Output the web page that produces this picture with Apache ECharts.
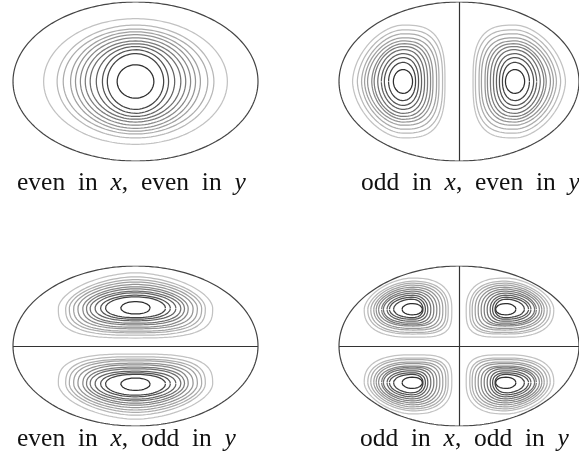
<!DOCTYPE html>
<html><head><meta charset="utf-8">
<script src="https://cdn.jsdelivr.net/npm/echarts@6/dist/echarts.min.js"></script>
<style>html,body{margin:0;padding:0;background:#fff}#c{width:579px;height:459px}</style>
</head><body><div id="c"></div>
<script>
// ---- Data (units: ellipse semi-axes = 1) ----
// contour shades, outermost -> innermost
const contourGrays = ['#c2c2c2','#b8b8b8','#acacac','#a0a0a0','#949494','#888888','#7c7c7c','#6f6f6f','#626262','#535353','#434343','#2e2e2e'];

// Panel A: even in x, even in y (contours centred at origin)
const eeHalfWidth  = [0.75, 0.64, 0.59, 0.53, 0.49, 0.45, 0.41, 0.37, 0.32, 0.27, 0.23, 0.15];
const eeHalfHeight = [0.79, 0.71, 0.66, 0.625, 0.59, 0.55, 0.51, 0.475, 0.44, 0.40, 0.35, 0.21];

// Panel B: odd in x, even in y (right lobe; mirrored in x)
const oeLobeCentre = [0.467, 0];
const oeNearX   = [0.35, 0.33, 0.30, 0.28, 0.25, 0.23, 0.205, 0.18, 0.155, 0.13, 0.105, 0.08];
const oeFarX    = [0.42, 0.38, 0.345, 0.32, 0.295, 0.26, 0.24, 0.21, 0.18, 0.155, 0.12, 0.08];
const oeHalfHeight = [0.71, 0.65, 0.60, 0.55, 0.51, 0.475, 0.44, 0.40, 0.35, 0.30, 0.24, 0.15];

// Panel C: even in x, odd in y (upper lobe; mirrored in y)
const eoLobeCentre = [0, 0.475];
const eoHalfWidth = [0.63, 0.57, 0.54, 0.505, 0.47, 0.43, 0.40, 0.37, 0.33, 0.285, 0.245, 0.12];
const eoFarY  = [0.44, 0.39, 0.355, 0.325, 0.295, 0.265, 0.24, 0.21, 0.19, 0.16, 0.14, 0.08];
const eoNearY = [0.375, 0.34, 0.31, 0.29, 0.26, 0.24, 0.21, 0.19, 0.16, 0.14, 0.12, 0.075];

// Panel D: odd in x, odd in y (upper-right lobe; mirrored in x and y)
const ooLobeCentre = [0.39, 0.46];
const ooFarX  = [0.40, 0.37, 0.345, 0.32, 0.30, 0.28, 0.255, 0.24, 0.21, 0.19, 0.155, 0.085];
const ooNearX = [0.33, 0.30, 0.28, 0.255, 0.23, 0.205, 0.18, 0.155, 0.13, 0.11, 0.09, 0.085];
const ooFarY  = [0.39, 0.35, 0.325, 0.30, 0.275, 0.25, 0.225, 0.20, 0.175, 0.15, 0.125, 0.07];
const ooNearY = [0.35, 0.31, 0.29, 0.26, 0.24, 0.21, 0.195, 0.175, 0.15, 0.125, 0.105, 0.07];

const captions = [
  ['even in ', 'x', ', even in ', 'y'],
  ['odd in ', 'x', ', even in ', 'y'],
  ['even in ', 'x', ', odd in ', 'y'],
  ['odd in ', 'x', ', odd in ', 'y']
];

// ---- Layout / style (not data) ----
const grids = [
  {left: 13, top: 2, width: 245, height: 159},
  {left: 339, top: 2, width: 244, height: 159},
  {left: 13, top: 266, width: 245, height: 160},
  {left: 339, top: 266, width: 244, height: 160}
];
const captionPos = [[17, 168], [361, 168], [17, 424], [360, 424]];
// superellipse exponents [outer, inner] per quadrant type
const EXP = {round: [2, 2], far: [1.75, 2.0], near: [3.0, 2.1], farfar: [1.7, 2.0], mixed: [2.5, 2.05], nearnear: [3.6, 2.2]};

function ex(kind, i, n) { const e = EXP[kind]; const f = i / (n - 1); return e[0] + (e[1] - e[0]) * f; }

function curve(cx, cy, xPos, xNeg, yPos, yNeg, exps, mx, my) {
  const pts = [], N = 220;
  for (let k = 0; k <= N; k++) {
    const t = 2 * Math.PI * k / N;
    const c = Math.cos(t), s = Math.sin(t);
    const q = c >= 0 ? (s >= 0 ? 0 : 3) : (s >= 0 ? 1 : 2);
    const n = exps[q];
    const px = Math.sign(c) * Math.pow(Math.abs(c), 2 / n);
    const py = Math.sign(s) * Math.pow(Math.abs(s), 2 / n);
    const x = cx + px * (c >= 0 ? xPos : xNeg);
    const y = cy + py * (s >= 0 ? yPos : yNeg);
    pts.push([mx * x, my * y]);
  }
  return pts;
}

const series = [];
function addLine(g, data, color, width, z, extra) {
  series.push(Object.assign({
    type: 'line', xAxisIndex: g, yAxisIndex: g, data: data,
    showSymbol: false, symbol: 'none', silent: true, z: z,
    lineStyle: {color: color, width: width}
  }, extra || {}));
}

// boundary ellipses + nodal lines
const nodal = [[], [{xAxis: 0}], [{yAxis: 0}], [{xAxis: 0}, {yAxis: 0}]];
for (let g = 0; g < 4; g++) {
  const b = [];
  for (let k = 0; k <= 360; k++) { const t = 2 * Math.PI * k / 360; b.push([Math.cos(t), Math.sin(t)]); }
  addLine(g, b, '#444', 1.2, 5, nodal[g].length ? {
    markLine: {silent: true, symbol: 'none', label: {show: false}, animation: false,
      lineStyle: {color: '#333', width: 1.2, type: 'solid'}, data: nodal[g]}
  } : {});
}

const nC = contourGrays.length;
for (let i = 0; i < nC; i++) {
  const col = contourGrays[i], w = 1.25;
  // A
  const r = ex('round', i, nC);
  addLine(0, curve(0, 0, eeHalfWidth[i], eeHalfWidth[i], eeHalfHeight[i], eeHalfHeight[i], [r, r, r, r], 1, 1), col, w, 3);
  // B
  const fB = ex('far', i, nC), nB = ex('near', i, nC);
  for (const mx of [1, -1])
    addLine(1, curve(oeLobeCentre[0], oeLobeCentre[1], oeFarX[i], oeNearX[i], oeHalfHeight[i], oeHalfHeight[i], [fB, nB, nB, fB], mx, 1), col, w, 3);
  // C
  for (const my of [1, -1])
    addLine(2, curve(eoLobeCentre[0], eoLobeCentre[1], eoHalfWidth[i], eoHalfWidth[i], eoFarY[i], eoNearY[i], [fB, fB, nB, nB], 1, my), col, w, 3);
  // D
  const ff = ex('farfar', i, nC), mm = ex('mixed', i, nC), nn = ex('nearnear', i, nC);
  for (const mx of [1, -1]) for (const my of [1, -1])
    addLine(3, curve(ooLobeCentre[0], ooLobeCentre[1], ooFarX[i], ooNearX[i], ooFarY[i], ooNearY[i], [ff, mm, nn, mm], mx, my), col, w, 3);
}

const base = {fontFamily: 'Liberation Serif', fontWeight: 'normal', fontSize: 25.5, color: '#111', lineHeight: 30};
const rich = {
  r: Object.assign({}, base),
  i: Object.assign({fontStyle: 'italic'}, base)
};
const titles = captions.map((parts, k) => ({
  text: parts.map((p, j) => '{' + (j % 2 ? 'i' : 'r') + '|' + p.replace(/ /g, '\u2002') + '}').join(''),
  left: captionPos[k][0], top: captionPos[k][1], padding: 0,
  textStyle: Object.assign({rich: rich}, base)
}));

const axisOpt = {type: 'value', min: -1, max: 1, show: false};
const chart = echarts.init(document.getElementById('c'), null, {renderer: 'canvas'});
chart.setOption({
  animation: false,
  backgroundColor: '#fff',
  title: titles,
  grid: grids,
  xAxis: grids.map((_, g) => Object.assign({gridIndex: g}, axisOpt)),
  yAxis: grids.map((_, g) => Object.assign({gridIndex: g}, axisOpt)),
  series: series
});
</script></body></html>
